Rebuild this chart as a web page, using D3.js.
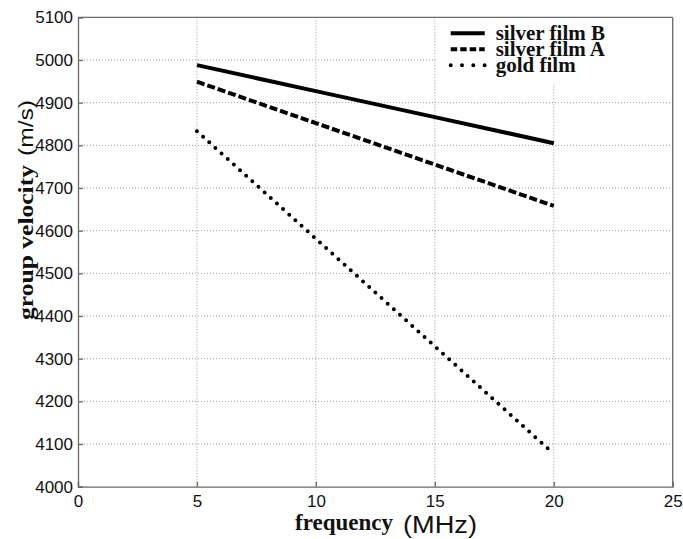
<!DOCTYPE html>
<html>
<head>
<meta charset="utf-8">
<script src="https://cdn.jsdelivr.net/npm/d3@7"></script>
<style>
  body { margin: 0; background: #fff; }
  svg { display: block; }
</style>
</head>
<body>
<div id="chart"></div>
<script>
// frequency (MHz)
var freq = [5, 10, 15, 20];
// group velocity (m/s)
var silverB = [4988, 4927, 4866, 4805];
var silverA = [4949, 4852, 4755, 4658];
var gold = [4833, 4581, 4329, 4077];

var seriesNames = ["silver film B", "silver film A", "gold film"];
var xTicks = [0, 5, 10, 15, 20, 25];
var yTicks = d3.range(4000, 5101, 100);

var serif = "'Liberation Serif', 'Times New Roman', serif";
var sans = "'Liberation Sans', Arial, sans-serif";

function init() {
    var w = 683;
    var h = 539;
    var margin = { top: 17.3, right: 10.3, bottom: 52.3, left: 78 };
    var iw = w - margin.left - margin.right;
    var ih = h - margin.top - margin.bottom;

    var root = d3.select("#chart").append("svg")
                 .attr("width", w)
                 .attr("height", h);
    var svg = root.append("g")
                  .attr("transform", "translate(" + margin.left + "," + margin.top + ")");

    var xScale = d3.scaleLinear().domain([0, 25]).range([0, iw]);
    var yScale = d3.scaleLinear().domain([4000, 5100]).range([ih, 0]);

    // dotted grid
    svg.append("g").selectAll("line")
       .data(xTicks.slice(1, -1))
       .enter().append("line")
       .attr("x1", d => xScale(d)).attr("x2", d => xScale(d))
       .attr("y1", 0).attr("y2", ih)
       .attr("stroke", "#9a9a9a").attr("stroke-width", 1)
       .attr("stroke-dasharray", "1,2");

    svg.append("g").selectAll("line")
       .data(yTicks.slice(1, -1))
       .enter().append("line")
       .attr("x1", 0).attr("x2", iw)
       .attr("y1", d => yScale(d)).attr("y2", d => yScale(d))
       .attr("stroke", "#9a9a9a").attr("stroke-width", 1)
       .attr("stroke-dasharray", "1,2");

    // axes, inward ticks
    var xAxis = d3.axisBottom(xScale).tickValues(xTicks).tickFormat(d3.format("d")).tickSize(-5);
    var yAxis = d3.axisLeft(yScale).tickValues(yTicks).tickFormat(d3.format("d")).tickSize(-5);

    var gx = svg.append("g").attr("transform", "translate(0," + ih + ")").call(xAxis);
    var gy = svg.append("g").call(yAxis);

    [gx, gy].forEach(function(g) {
        g.select(".domain").attr("stroke", "#6a6a6a").attr("stroke-width", 1.3);
        g.selectAll(".tick line").attr("stroke", "#6a6a6a").attr("stroke-width", 1.3);
        g.selectAll(".tick text")
         .attr("fill", "#111")
         .style("font-family", sans)
         .style("font-size", "17px");
    });
    gx.selectAll(".tick text").attr("dy", "0.71em").attr("y", 8);
    gy.selectAll(".tick text").attr("x", -5);

    // top and right border
    svg.append("line").attr("x1", 0).attr("x2", iw).attr("y1", 0).attr("y2", 0)
       .attr("stroke", "#6a6a6a").attr("stroke-width", 1.3);
    svg.append("line").attr("x1", iw).attr("x2", iw).attr("y1", 0).attr("y2", ih)
       .attr("stroke", "#6a6a6a").attr("stroke-width", 1.3);

    var styles = [
        { data: silverB, dash: null, legDash: null, width: 4, cap: "butt" },
        { data: silverA, dash: "8,3", legDash: "6.5,3", width: 4, cap: "butt" },
        { data: gold, dash: "dots", legDash: "0,11.3", width: 4, cap: "round" }
    ];

    var line = d3.line()
                 .x((d, i) => xScale(freq[i]))
                 .y(d => yScale(d));

    styles.forEach(function(s) {
        var p = svg.append("path")
           .datum(s.data)
           .attr("d", line)
           .attr("fill", "none")
           .attr("stroke", "#000")
           .attr("stroke-width", s.width)
           .attr("stroke-linecap", s.cap);
        if (s.dash === "dots") {
            // space the dots so one sits at each end
            var len = p.node().getTotalLength();
            var gap = len / Math.round(len / 8.3);
            p.attr("stroke-dasharray", "0," + gap);
        } else {
            p.attr("stroke-dasharray", s.dash);
        }
    });

    // legend
    var lg = svg.append("g").attr("transform", "translate(" + (iw - 235) + ",0)");
    lg.append("rect")
      .attr("x", 0).attr("y", 0.8)
      .attr("width", 234).attr("height", 66)
      .attr("fill", "#fff");

    styles.forEach(function(s, i) {
        var yy = 16 + i * 16;
        lg.append("line")
          .attr("x1", 13).attr("x2", 47)
          .attr("y1", yy).attr("y2", yy)
          .attr("stroke", "#000")
          .attr("stroke-width", s.width)
          .attr("stroke-linecap", s.cap)
          .attr("stroke-dasharray", s.legDash);
        lg.append("text")
          .attr("x", 58).attr("y", yy + 7)
          .style("font-family", serif)
          .style("font-weight", "bold")
          .style("font-size", "21px")
          .attr("fill", "#111")
          .text(seriesNames[i]);
    });

    // axis titles (absolute coordinates)
    root.append("text")
        .attr("x", 295).attr("y", 530)
        .attr("textLength", 98).attr("lengthAdjust", "spacingAndGlyphs")
        .style("font-family", serif)
        .style("font-weight", "bold")
        .style("font-size", "23px")
        .attr("fill", "#111")
        .text("frequency");
    root.append("text")
        .attr("x", 403).attr("y", 533)
        .attr("textLength", 74).attr("lengthAdjust", "spacingAndGlyphs")
        .style("font-family", sans)
        .style("font-size", "23px")
        .attr("fill", "#111")
        .text("(MHz)");

    root.append("text")
        .attr("transform", "translate(33,320) rotate(-90)")
        .attr("textLength", 155).attr("lengthAdjust", "spacingAndGlyphs")
        .style("font-family", serif)
        .style("font-weight", "bold")
        .style("font-size", "21px")
        .attr("fill", "#111")
        .text("group velocity");
    root.append("text")
        .attr("transform", "translate(33,156) rotate(-90)")
        .attr("textLength", 56).attr("lengthAdjust", "spacingAndGlyphs")
        .style("font-family", sans)
        .style("font-size", "21px")
        .attr("fill", "#111")
        .text("(m/s)");
}

window.onload = init;
</script>
</body>
</html>
